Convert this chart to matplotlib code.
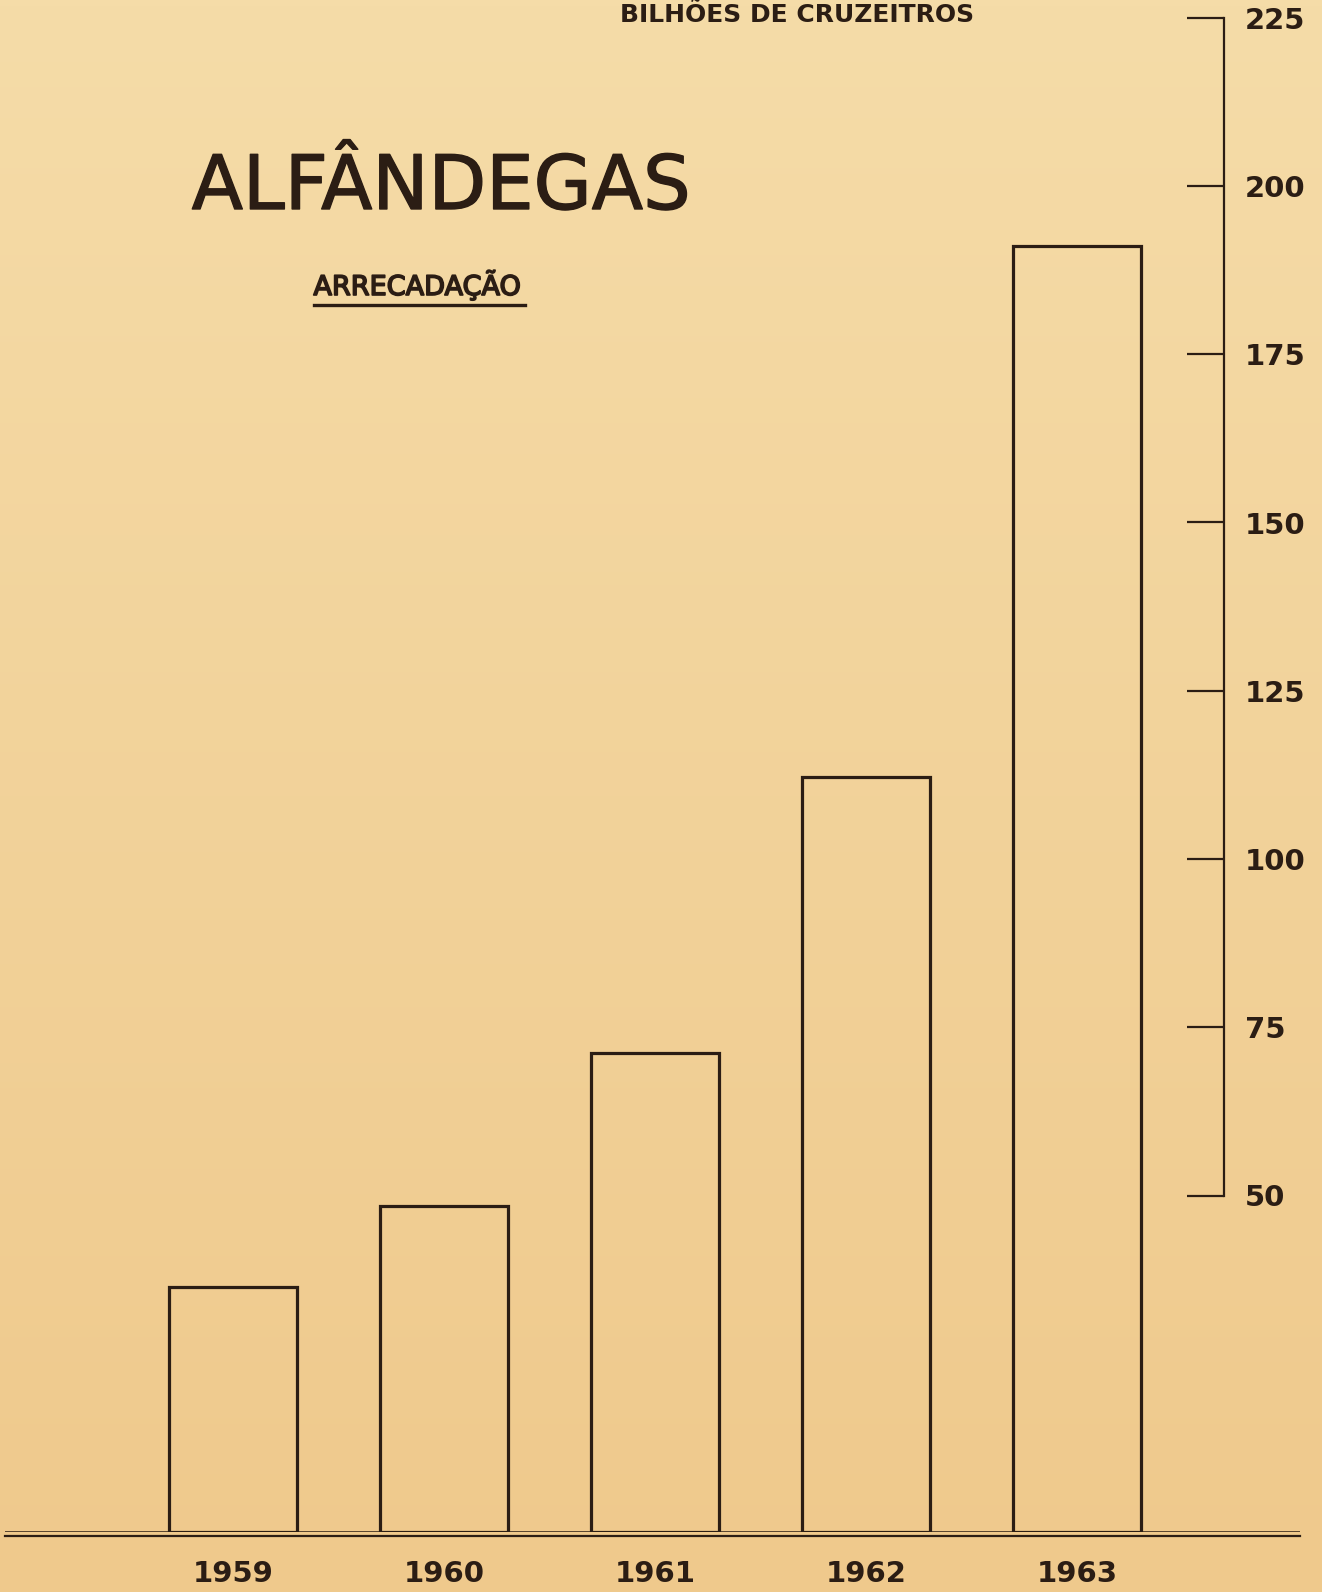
import numpy as np
import matplotlib
matplotlib.use("Agg")
import matplotlib.pyplot as plt
import matplotlib.patheffects as pe
from matplotlib.lines import Line2D

# Arrecadacao das alfandegas, bilhoes de cruzeiros
Years = ["1959", "1960", "1961", "1962", "1963"]
Values = [36.4, 48.5, 71.2, 112.2, 191.1]
ScaleTicks = [50, 75, 100, 125, 150, 175, 200, 225]

Ink = "#2b1d14"
PaperTop = "#f5dca8"
PaperBottom = "#efc98c"

W, H = 1322, 1592
fig = plt.figure(figsize=(W / 100, H / 100), dpi=100)
fig.patch.set_facecolor(PaperBottom)

# papel amarelado, um pouco mais escuro em baixo
bg = fig.add_axes([0, 0, 1, 1], zorder=0)
grad = np.linspace(0, 1, 256).reshape(-1, 1)
cmap = matplotlib.colors.LinearSegmentedColormap.from_list("paper", [PaperTop, PaperBottom])
bg.imshow(grad, aspect="auto", cmap=cmap, extent=[0, 1, 0, 1], origin="upper")
bg.axis("off")

# eixo principal: zero em y=1532 px, 6.73 px por bilhao, passo de 211 px entre barras
ZeroPx = 1532
PxPerUnit = 6.73
ax = fig.add_axes([5 / W, (H - ZeroPx) / H, 1295 / W, ZeroPx / H], zorder=1)
ax.patch.set_alpha(0)

x = np.arange(len(Years))
ax.bar(x, Values, width=0.61, facecolor="none", edgecolor=Ink, linewidth=2.3,
       joinstyle="miter", zorder=3)

xmin = -(233 - 5) / 211
ax.set_xlim(xmin, xmin + 1295 / 211)
ax.set_ylim(0, ZeroPx / PxPerUnit)

# linha de base dupla
ax.axhline(0, color=Ink, lw=1.8, zorder=4)
ax.axhline(-0.55, color=Ink, lw=1.6, zorder=4, clip_on=False)

for s in ["top", "left", "bottom"]:
    ax.spines[s].set_visible(False)

SpineFrac = (1224 - 5) / 1295
ax.spines["right"].set_position(("axes", SpineFrac))
ax.spines["right"].set_bounds(50, 225)
ax.spines["right"].set_color(Ink)
ax.spines["right"].set_linewidth(1.6)

ax.yaxis.tick_right()
ax.set_yticks(ScaleTicks)
ax.set_yticklabels([str(v) for v in ScaleTicks])
ax.tick_params(axis="y", direction="in", length=27, width=1.6, color=Ink,
               pad=15, labelsize=21, labelcolor=Ink)
for lbl in ax.get_yticklabels():
    lbl.set_fontweight("bold")

ax.set_xticks(x)
ax.set_xticklabels(Years)
ax.tick_params(axis="x", length=0, pad=20, labelsize=21, labelcolor=Ink)
for lbl in ax.get_xticklabels():
    lbl.set_fontweight("bold")

# textos
fig.text(797 / W, 1 - 22 / H, "BILHÕES DE CRUZEITROS", ha="center", va="baseline",
         fontsize=18, fontweight="bold", color=Ink)
fig.text(441 / W, 1 - 209 / H, "ALFÂNDEGAS", ha="center", va="baseline",
         fontsize=54, color=Ink,
         path_effects=[pe.withStroke(linewidth=1.0, foreground=Ink)])
fig.text(417 / W, 1 - 295 / H, "ARRECADAÇÃO", ha="center", va="baseline",
         fontsize=19.5, color=Ink,
         path_effects=[pe.withStroke(linewidth=1.2, foreground=Ink)])
fig.add_artist(Line2D([314 / W, 525 / W], [1 - 305 / H, 1 - 305 / H],
                      transform=fig.transFigure, color=Ink, lw=2.4))

fig.savefig("out.png", dpi=100, facecolor=fig.get_facecolor())
